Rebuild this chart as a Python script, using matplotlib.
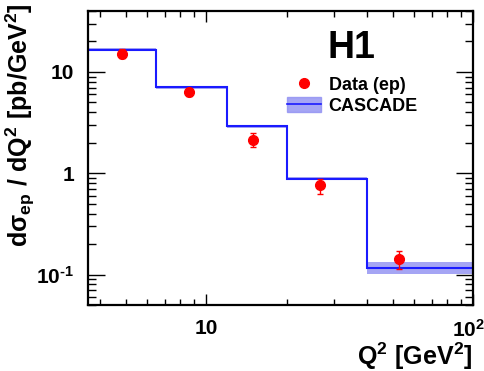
import matplotlib
matplotlib.use("Agg")
import matplotlib.pyplot as plt
import matplotlib.transforms as mtransforms
from matplotlib.lines import Line2D
from matplotlib.patches import Patch
from matplotlib.ticker import NullFormatter, FuncFormatter
import numpy as np

plt.rcParams['font.family'] = ['Liberation Sans', 'DejaVu Sans']
plt.rcParams['font.weight'] = 'bold'
plt.rcParams['axes.unicode_minus'] = False
plt.rcParams['mathtext.fontset'] = 'custom'
plt.rcParams['mathtext.rm'] = 'Liberation Sans:bold'
plt.rcParams['mathtext.bf'] = 'Liberation Sans:bold'
plt.rcParams['mathtext.it'] = 'Liberation Sans:bold:italic'
plt.rcParams['mathtext.default'] = 'bf'

# data (ep)
q2_data = [4.84, 8.6, 15.0, 26.7, 53.0]
xs_data = [15.2, 6.3, 2.11, 0.76, 0.141]
xs_err_up = [1.6, 0.5, 0.36, 0.11, 0.030]
xs_err_dn = [1.6, 0.5, 0.31, 0.13, 0.028]

# CASCADE prediction
bin_edges = [2.0, 6.5, 12.0, 20.0, 40.0, 100.0]
cascade = [16.6, 7.07, 2.9, 0.885, 0.117]
cascade_lo = [16.0, 6.85, 2.8, 0.85, 0.1005]
cascade_hi = [17.2, 7.3, 3.0, 0.92, 0.132]

fig = plt.figure(figsize=(4.85, 3.71), dpi=100)
ax = fig.add_axes([88/485, 66/371, 385/485, 294/371])

blue = '#1a1aff'
band = '#8f8ff2'
ax.stairs(cascade_hi, bin_edges, baseline=cascade_lo, fill=True, color=band, alpha=0.8, lw=0)
ax.stairs(cascade, bin_edges, baseline=None, color=blue, lw=1.5)

ax.errorbar(q2_data, xs_data, yerr=[xs_err_dn, xs_err_up], fmt='o', color='#ff0000',
            ms=7, elinewidth=1, capsize=2.5, capthick=1, zorder=5)

ax.set_xscale('log')
ax.set_yscale('log')
ax.set_xlim(3.6, 100)
ax.set_ylim(0.05, 40)

for s in ax.spines.values():
    s.set_linewidth(1.6)

ax.tick_params(which='both', direction='in', top=True, right=True, width=1, labelsize=15)
ax.tick_params(axis='y', which='major', length=12, pad=10)
ax.tick_params(axis='y', which='minor', length=6)
ax.tick_params(axis='x', which='major', length=8, pad=10)
ax.tick_params(axis='x', which='minor', length=4)

def fmt(v, pos):
    e = int(round(np.log10(v)))
    if e == 0:
        return '1'
    if e == 1:
        return '10'
    if e < 0:
        return r'$10^{\text{-}%d}$' % (-e)
    return r'$10^{%d}$' % e

ax.yaxis.set_major_formatter(FuncFormatter(fmt))
ax.xaxis.set_minor_formatter(NullFormatter())
ax.yaxis.set_minor_formatter(NullFormatter())
ax.set_xticks([10, 100], ['10', r'$10^{2}$'])
lab100 = ax.get_xticklabels()[1]
lab100.set_horizontalalignment('right')
lab100.set_transform(lab100.get_transform()
                     + mtransforms.ScaledTranslation(12/100, 0, fig.dpi_scale_trans))

fig.text(0.975, 6/371, r'$Q^{2}\ [GeV^{2}]$', ha='right', va='baseline', fontsize=18)
fig.text(0.008, 0.992, r'$d\sigma_{ep}\ /\ dQ^{2}\ [pb/GeV^{2}]$', rotation=90,
         ha='left', va='top', fontsize=18)

ax.text(351/485, 1 - 48/371, 'H1', transform=fig.transFigure, ha='center', va='center',
        fontsize=27, fontweight='bold')

handles = [Line2D([], [], marker='o', ls='none', color='#ff0000', ms=7),
           (Patch(color=band, alpha=0.8), Line2D([], [], color=blue, lw=1.2))]
ax.legend(handles, ['Data (ep)', 'CASCADE'], loc='upper left', bbox_to_anchor=(287/485, 1 - 76/371),
          bbox_transform=fig.transFigure, frameon=False, prop={'weight': 'bold', 'size': 13},
          handlelength=1.9, handleheight=0.9, handletextpad=0.4, labelspacing=0.2,
          borderpad=0, borderaxespad=0)

fig.savefig('out.png', dpi=100)
